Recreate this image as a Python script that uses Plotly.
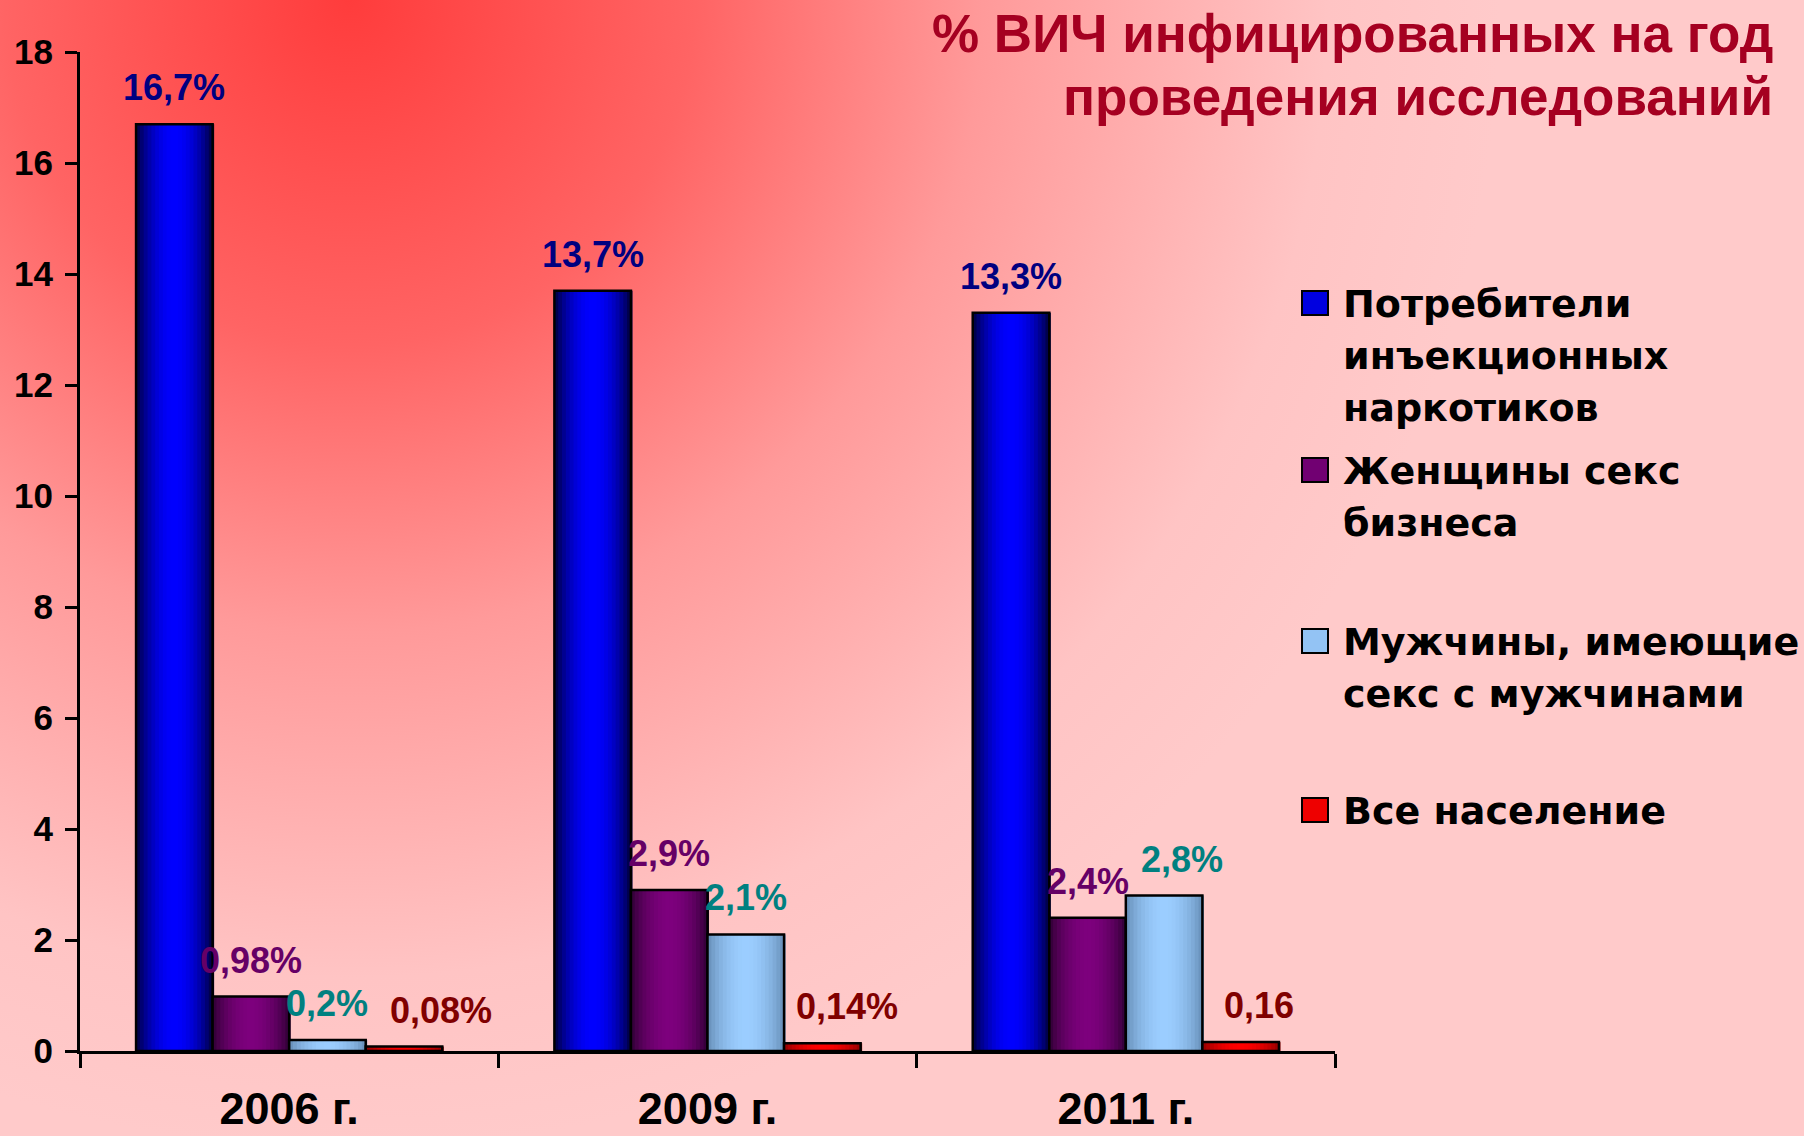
"""HIV prevalence by study year and population group, grouped bar chart."""

import base64
import math

import plotly.graph_objects as go

# --- data -----------------------------------------------------------------
categories = ["2006 г.", "2009 г.", "2011 г."]

idu = [16.7, 13.7, 13.3]
fsw = [0.98, 2.9, 2.4]
msm = [0.2, 2.1, 2.8]
general = [0.08, 0.14, 0.16]

idu_labels = ["16,7%", "13,7%", "13,3%"]
fsw_labels = ["0,98%", "2,9%", "2,4%"]
msm_labels = ["0,2%", "2,1%", "2,8%"]
general_labels = ["0,08%", "0,14%", "0,16"]

legend_labels = [
    ["Потребители", "инъекционных", "наркотиков"],
    ["Женщины секс", "бизнеса"],
    ["Мужчины, имеющие", "секс с мужчинами"],
    ["Все население"],
]

y_ticks = [0, 2, 4, 6, 8, 10, 12, 14, 16, 18]
title_lines = ["% ВИЧ инфицированных на год", "проведения исследований"]

# --- styling --------------------------------------------------------------
W, H = 1804, 1136
L, R, T, B = 80, 469, 52, 85
PW, PH = W - L - R, H - T - B

FONT = "Liberation Sans, Arial, sans-serif"
LEGEND_FONT = "DejaVu Sans, sans-serif"

# (edge colour, centre colour, label colour) per series
SERIES_STYLE = [
    ((0, 0, 50), (0, 0, 255), "#000080"),
    ((45, 0, 50), (125, 0, 125), "#660066"),
    ((100, 140, 180), (155, 205, 255), "#008080"),
    ((140, 0, 0), (255, 0, 0), "#800000"),
]
# horizontal nudges of the value labels, px
LABEL_NUDGE = [[0, 0, 0], [0, 0, 0], [0, 0, 18], [37, 25, 18]]
LEGEND_CENTERS = [303, 470, 641, 810]
LEGEND_LINE = 52

GROUP = 0.732
BW = GROUP / 4
N_STRIPS = 20


def px_x(px):
    return (px - L) / PW


def px_y(py):
    return 1 - (py - T) / PH


def mix(a, b, f):
    return "rgb(%d,%d,%d)" % tuple(round(a[i] + (b[i] - a[i]) * f) for i in range(3))


values = [idu, fsw, msm, general]
labels = [idu_labels, fsw_labels, msm_labels, general_labels]

fig = go.Figure()

for s, (vals, style) in enumerate(zip(values, SERIES_STYLE)):
    edge, centre, _ = style
    left = -GROUP / 2 + s * BW
    # shaded fill made of thin vertical strips
    for k in range(N_STRIPS):
        t = (k + 0.5) / N_STRIPS
        f = math.sin(math.pi * t) ** 0.8
        fig.add_trace(
            go.Bar(
                x=categories,
                y=vals,
                width=BW / N_STRIPS * 1.4,
                offset=left + k * BW / N_STRIPS,
                marker=dict(color=mix(edge, centre, f), line=dict(width=0)),
                showlegend=False,
                hoverinfo="skip",
            )
        )
    # outline
    fig.add_trace(
        go.Bar(
            x=categories,
            y=vals,
            width=BW,
            offset=left,
            marker=dict(color="rgba(0,0,0,0)", line=dict(color="black", width=2.5)),
            showlegend=False,
            hoverinfo="skip",
        )
    )

annotations = []
for s, (vals, texts) in enumerate(zip(values, labels)):
    centre_off = -GROUP / 2 + (s + 0.5) * BW
    for i, (v, txt) in enumerate(zip(vals, texts)):
        annotations.append(
            dict(
                x=i + centre_off,
                y=v,
                xref="x",
                yref="y",
                text=txt,
                showarrow=False,
                yanchor="bottom",
                yshift=14,
                xshift=LABEL_NUDGE[s][i],
                font=dict(family=FONT, size=36, color=SERIES_STYLE[s][2], weight="bold"),
            )
        )

# title, one annotation per line
for k, line in enumerate(title_lines):
    annotations.append(
        dict(
            x=px_x(1775),
            y=px_y(2 + 63 * k),
            xref="paper",
            yref="paper",
            xanchor="right",
            yanchor="top",
            text=line,
            showarrow=False,
            font=dict(family=FONT, size=53, color="#A50021", weight="bold"),
        )
    )

# legend
shapes = []
for s, (lines, cy) in enumerate(zip(legend_labels, LEGEND_CENTERS)):
    edge, centre, _ = SERIES_STYLE[s]
    shapes.append(
        dict(
            type="rect",
            xref="paper",
            yref="paper",
            x0=px_x(1302),
            x1=px_x(1328),
            y0=px_y(cy - 12),
            y1=px_y(cy + 12),
            fillcolor=mix(edge, centre, 0.85),
            line=dict(color="black", width=2),
            layer="above",
        )
    )
    for k, line in enumerate(lines):
        annotations.append(
            dict(
                x=px_x(1341),
                y=px_y(cy + 1 + k * LEGEND_LINE),
                xref="paper",
                yref="paper",
                xanchor="left",
                yanchor="middle",
                text=line,
                showarrow=False,
                font=dict(family=LEGEND_FONT, size=38, color="black", weight="bold"),
            )
        )

# background gradient
svg = (
    f'<svg xmlns="http://www.w3.org/2000/svg" width="{W}" height="{H}" viewBox="0 0 {W} {H}">'
    '<defs><radialGradient id="g" gradientUnits="userSpaceOnUse" cx="350" cy="0" r="1150">'
    '<stop offset="0" stop-color="#FF3C3C"/>'
    '<stop offset="0.3" stop-color="#FF6464"/>'
    '<stop offset="0.55" stop-color="#FF9A9A"/>'
    '<stop offset="0.85" stop-color="#FFC4C4"/>'
    '<stop offset="1" stop-color="#FFCACA"/>'
    "</radialGradient></defs>"
    f'<rect width="{W}" height="{H}" fill="url(#g)"/></svg>'
)
bg_src = "data:image/svg+xml;base64," + base64.b64encode(svg.encode()).decode()

fig.update_layout(
    template="none",
    width=W,
    height=H,
    margin=dict(l=L, r=R, t=T, b=B, autoexpand=False),
    barmode="overlay",
    showlegend=False,
    paper_bgcolor="#FFCACA",
    plot_bgcolor="rgba(0,0,0,0)",
    annotations=annotations,
    shapes=shapes,
    images=[
        dict(
            source=bg_src,
            xref="paper",
            yref="paper",
            x=px_x(0),
            y=px_y(0),
            sizex=W / PW,
            sizey=H / PH,
            xanchor="left",
            yanchor="top",
            sizing="stretch",
            layer="below",
        )
    ],
    xaxis=dict(
        type="category",
        range=[-0.5, 2.5],
        tickson="boundaries",
        ticks="outside",
        ticklen=14,
        tickwidth=3,
        tickcolor="black",
        showline=True,
        linewidth=3,
        linecolor="black",
        showgrid=False,
        zeroline=False,
        ticklabelstandoff=16,
        tickfont=dict(family=FONT, size=45, color="black", weight="bold"),
    ),
    yaxis=dict(
        range=[0, 18],
        tickvals=y_ticks,
        ticks="outside",
        ticklen=12,
        tickwidth=3,
        tickcolor="black",
        showline=True,
        linewidth=3,
        linecolor="black",
        showgrid=False,
        zeroline=False,
        ticklabelstandoff=5,
        tickfont=dict(family=FONT, size=35, color="black", weight="bold"),
    ),
)

fig.write_html(
    "out.html",
    config={"displayModeBar": False},
    post_script="document.body.style.margin='0';document.body.style.overflow='hidden';",
)
